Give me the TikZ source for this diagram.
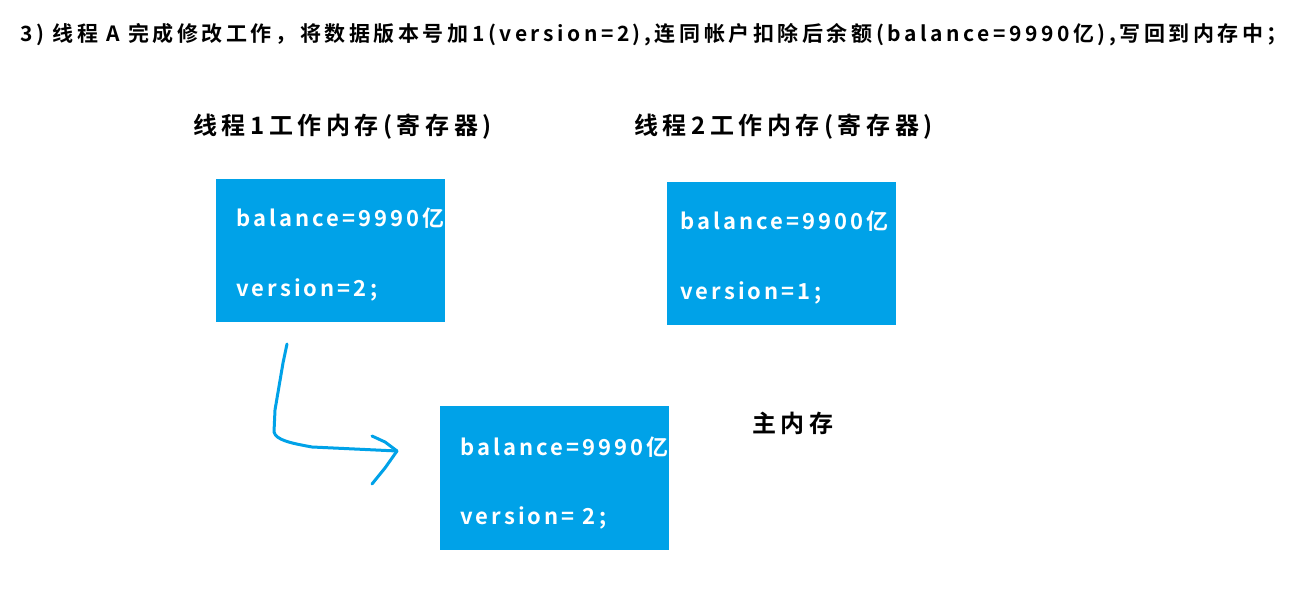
\documentclass[tikz,border=0pt]{standalone}
\usepackage{fontspec}
\setmainfont{Noto Sans CJK SC}[BoldFont={Noto Sans CJK SC Bold}]
\definecolor{paintblue}{RGB}{0,162,232}
\tikzset{
  memblock/.style={fill=paintblue, draw=none, minimum width=229pt, minimum height=143pt, inner sep=0pt},
  boxtext/.style={anchor=west, text=white, inner sep=0pt, font=\bfseries\fontsize{22}{26}\selectfont\addfontfeatures{LetterSpace=14}},
  headtext/.style={anchor=west, text=black, inner sep=0pt, font=\bfseries\fontsize{24}{28}\selectfont\addfontfeatures{LetterSpace=19}},
  titletext/.style={anchor=west, text=black, inner sep=0pt, font=\bfseries\fontsize{21}{25}\selectfont\addfontfeatures{LetterSpace=17}},
  freearrow/.style={draw=paintblue, line width=3pt, line join=round, line cap=round}
}
\begin{document}
\begin{tikzpicture}[x=1pt,y=-1pt]
\useasboundingbox[fill=white] (0,0) rectangle (1293,601);
\node[titletext] (title) at (20,35) {3) 线程 A 完成修改工作，将数据版本号加1(version=2),连同帐户扣除后余额(balance=9990亿),写回到内存中；};
\node[headtext] (h1) at (193,127) {线程1工作内存(寄存器)};
\node[headtext] (h2) at (634,127) {线程2工作内存(寄存器)};
\node[headtext] (h3) at (752,423) {主内存};
\node[memblock] (b1) at (330.5,250.5) {};
\node[memblock] (b2) at (781.5,253.5) {};
\node[memblock, minimum height=144pt] (b3) at (554.5,478) {};
\node[boxtext] (b1a) at (236,218) {balance=9990亿};
\node[boxtext] (b1b) at (236,290) {version=2;};
\node[boxtext] (b2a) at (680,221) {balance=9900亿};
\node[boxtext] (b2b) at (680,293) {version=1;};
\node[boxtext] (b3a) at (460,447) {balance=9990亿};
\node[boxtext] (b3b) at (460,518) {version= 2;};
\coordinate (a0) at (287,344);
\coordinate (a1) at (283,363);
\coordinate (a2) at (275,410);
\coordinate (a3) at (274,432);
\coordinate (a4) at (312,447);
\coordinate (tip) at (397,451);
\coordinate (u0) at (372,436);
\coordinate (u1) at (385,442);
\coordinate (l1) at (385,468);
\coordinate (l0) at (372,484);
\draw[freearrow] (a0) -- (a1) -- (a2) -- (a3) .. controls (276,440) and (290,443) .. (a4) -- (tip);
\draw[freearrow] (u0) -- (u1) -- (tip) -- (l1) -- (l0);
\end{tikzpicture}
\end{document}
